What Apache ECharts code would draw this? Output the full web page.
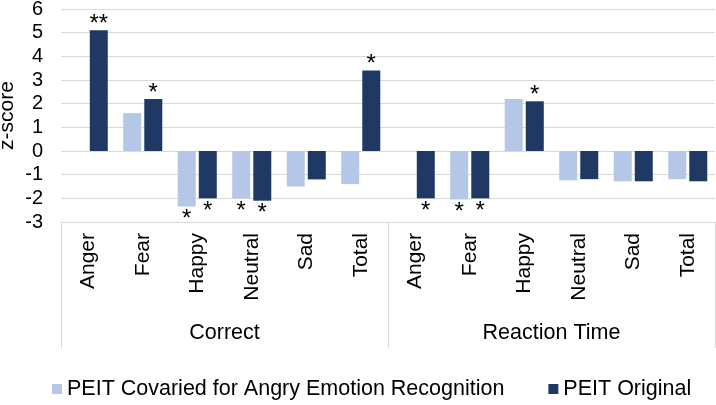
<!DOCTYPE html>
<html>
<head>
<meta charset="utf-8">
<script src="https://cdn.jsdelivr.net/npm/echarts@6/dist/echarts.min.js"></script>
<style>html,body{margin:0;padding:0;background:#fff;}#c{width:716px;height:405px;}</style>
</head>
<body>
<div id="c"></div>
<script>
var categories = ['Anger','Fear','Happy','Neutral','Sad','Total','Anger','Fear','Happy','Neutral','Sad','Total'];
var groups = ['Correct','Reaction Time'];
var seriesNames = ['PEIT Covaried for Angry Emotion Recognition','PEIT Original'];
var covaried = [null, 1.6, -2.35, -2.0, -1.5, -1.4, null, -2.05, 2.2, -1.24, -1.28, -1.19];
var original = [5.1, 2.2, -2.0, -2.1, -1.2, 3.4, -2.0, -2.0, 2.1, -1.19, -1.28, -1.28];
var sigCovaried = ['', '', '*', '*', '', '', '', '*', '', '', '', ''];
var sigOriginal = ['**', '*', '*', '*', '', '*', '*', '*', '*', '', '', ''];
var yTicks = [-3,-2,-1,0,1,2,3,4,5,6];

var FONT = '"Liberation Sans", Arial, sans-serif';

function buildData(vals, sigs) {
  return vals.map(function (v, i) {
    if (v === null) return '-';
    var neg = v < 0;
    return {
      value: v,
      label: {
        show: sigs[i] !== '',
        formatter: sigs[i],
        position: neg ? 'bottom' : 'top',
        distance: neg ? 1 : -6
      }
    };
  });
}

var chart = echarts.init(document.getElementById('c'), null, {renderer: 'canvas'});
chart.setOption({
  animation: false,
  backgroundColor: '#fff',
  textStyle: {fontFamily: FONT},
  grid: {left: 61, right: 1, top: 9, bottom: 183, containLabel: false, outerBoundsMode: 'none'},
  legend: {
    data: seriesNames,
    left: 47,
    top: 373,
    itemWidth: 10,
    itemHeight: 10,
    itemGap: 44,
    icon: 'rect',
    textStyle: {fontSize: 21.5, color: '#000', fontFamily: FONT}
  },
  xAxis: [{
    type: 'category',
    data: categories,
    axisLine: {onZero: false, lineStyle: {color: '#d9d9d9', width: 1}},
    axisTick: {show: false},
    axisLabel: {rotate: 90, fontSize: 21, color: '#000', margin: 11, interval: 0, fontFamily: FONT},
    splitLine: {show: false}
  }, {
    type: 'category',
    data: groups,
    position: 'bottom',
    axisLine: {show: false, onZero: false},
    axisTick: {show: true, length: 126, interval: 0, lineStyle: {color: '#d9d9d9', width: 1}},
    axisLabel: {fontSize: 21.5, color: '#000', margin: 100, interval: 0, fontFamily: FONT},
    splitLine: {show: false}
  }],
  yAxis: {
    type: 'value',
    min: -3,
    max: 6,
    interval: 1,
    name: 'z-score',
    nameLocation: 'middle',
    nameGap: 43,
    nameMoveOverlap: false,
    nameTextStyle: {fontSize: 21, color: '#000', fontFamily: FONT},
    axisLine: {show: false},
    axisTick: {show: false},
    axisLabel: {fontSize: 20, color: '#000', margin: 18, fontFamily: FONT},
    splitLine: {lineStyle: {color: '#d9d9d9', width: 1}}
  },
  series: [{
    name: seriesNames[0],
    type: 'bar',
    barWidth: 18,
    barGap: '17%',
    itemStyle: {color: '#B4C7E7'},
    label: {fontSize: 24, color: '#000', fontFamily: FONT},
    data: buildData(covaried, sigCovaried)
  }, {
    name: seriesNames[1],
    type: 'bar',
    barWidth: 18,
    barGap: '17%',
    itemStyle: {color: '#203864'},
    label: {fontSize: 24, color: '#000', fontFamily: FONT},
    data: buildData(original, sigOriginal)
  }]
});
</script>
</body>
</html>
